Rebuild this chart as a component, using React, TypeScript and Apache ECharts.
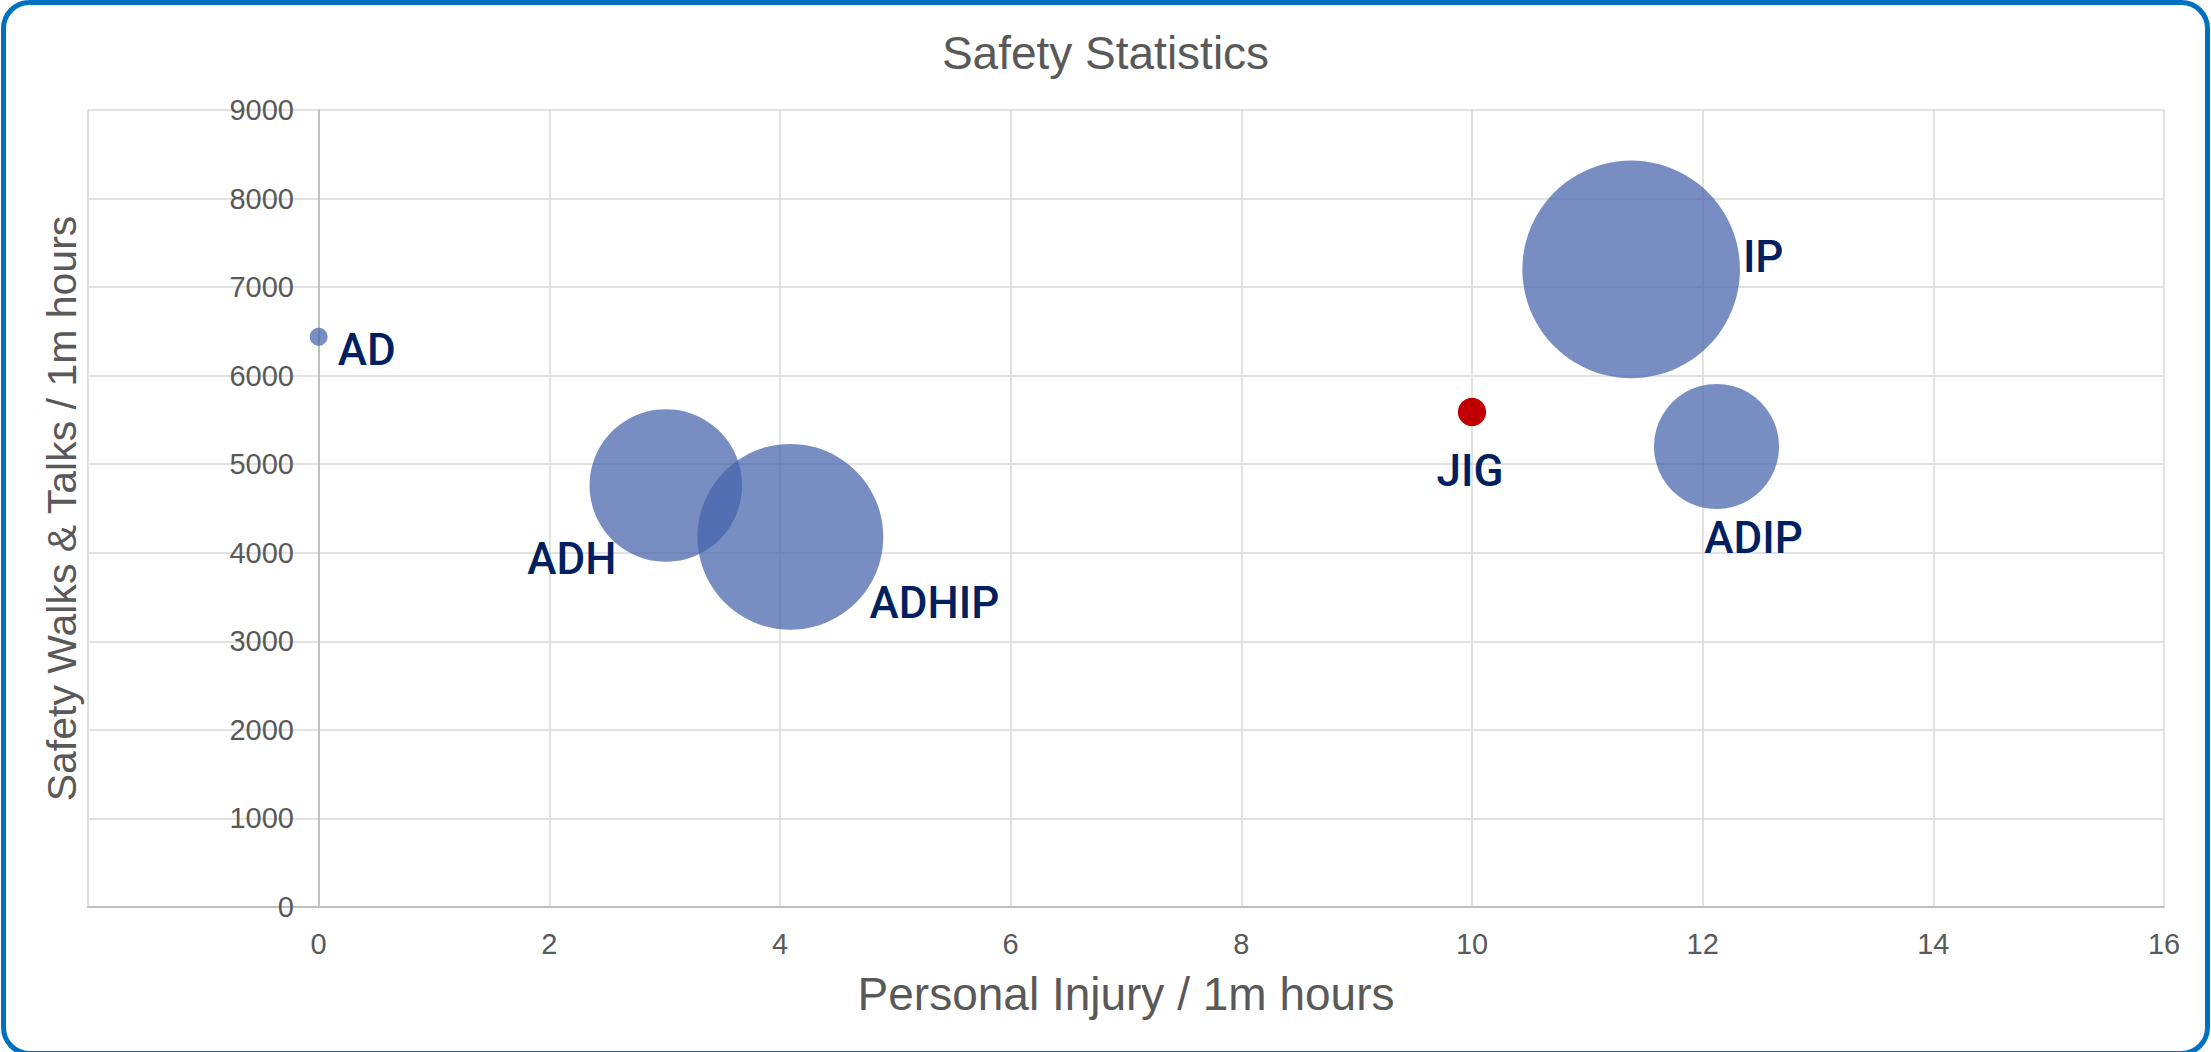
import React, { useEffect, useRef } from "react";
import * as echarts from "echarts";

// ---- Data ----
const NAMES = ["AD", "ADH", "ADHIP", "JIG", "IP", "ADIP"];
const INJURY_RATE = [0, 3.01, 4.09, 10.0, 11.38, 12.12]; // Personal Injury / 1m hours
const WALKS_RATE = [6440, 4760, 4180, 5590, 7200, 5200]; // Safety Walks & Talks / 1m hours
const BUBBLE_SIZE = [8, 580, 860, 20, 1180, 390]; // relative bubble size
const HIGHLIGHT_NAME = "JIG";

const X_MIN = -2;
const X_MAX = 16;
const X_STEP = 2;
const Y_MIN = 0;
const Y_MAX = 9000;
const Y_STEP = 1000;

// ---- Layout / style ----
const GRID_LEFT = 88;
const Y_LABEL_RIGHT = 294; // right edge of y tick labels (next to the x=0 axis line)
const Y_NAME_RIGHT = 82; // right edge of rotated y axis name
const LABEL_OFFSETS: Record<string, [number, number]> = {
  AD: [48, 13],
  ADH: [-94, 74],
  ADHIP: [144, 66],
  JIG: [-2, 59],
  IP: [132, -12],
  ADIP: [37, 91],
};
const MAX_DIAMETER = 217.6;
const BLUE = "rgba(70,100,171,0.73)";
const RED = "#C00000";
const TEXT_GREY = "#595959";
const LABEL_NAVY = "#002060";

export default function App() {
  const ref = useRef<HTMLDivElement | null>(null);

  useEffect(() => {
    if (!ref.current) return;
    const chart = echarts.init(ref.current, null, { renderer: "svg" });
    const maxSize = Math.max(...BUBBLE_SIZE);
    const sizeFn = (v: number[]) => MAX_DIAMETER * Math.sqrt(v[2] / maxSize);

    const makeItem = (i: number) => ({
      name: NAMES[i],
      value: [INJURY_RATE[i], WALKS_RATE[i], BUBBLE_SIZE[i]],
      label: { offset: LABEL_OFFSETS[NAMES[i]] || [0, 0] },
    });
    const blueData: any[] = [];
    const redData: any[] = [];
    NAMES.forEach((n, i) => {
      if (n === HIGHLIGHT_NAME) redData.push(makeItem(i));
      else blueData.push(makeItem(i));
    });

    const labelStyle = {
      show: true,
      position: "inside",
      formatter: "{b}",
      fontFamily: "Roboto",
      fontWeight: 500,
      fontSize: 44,
      color: LABEL_NAVY,
      opacity: 1,
    };

    chart.setOption({
      animation: false,
      backgroundColor: "#ffffff",
      title: {
        text: "Safety Statistics",
        left: "center",
        top: 25,
        textStyle: {
          fontFamily: "Liberation Sans",
          fontWeight: "normal",
          fontSize: 46,
          color: TEXT_GREY,
        },
      },
      grid: {
        left: GRID_LEFT,
        right: 47,
        top: 110,
        bottom: 145,
        outerBoundsMode: "none",
      },
      xAxis: {
        type: "value",
        min: X_MIN,
        max: X_MAX,
        interval: X_STEP,
        name: "Personal Injury / 1m hours",
        nameLocation: "middle",
        nameGap: 64,
        nameTextStyle: {
          fontFamily: "Liberation Sans",
          fontSize: 46,
          color: TEXT_GREY,
        },
        axisLine: { onZero: false, lineStyle: { color: "#BFBFBF", width: 2 } },
        axisTick: { show: false },
        axisLabel: {
          margin: 22,
          fontFamily: "Liberation Sans",
          fontSize: 29,
          color: TEXT_GREY,
          formatter: (v: number) => (v < 0 ? "" : String(v)),
        },
        splitLine: { show: true, lineStyle: { color: "#D9D9D9", width: 1.5 } },
      },
      yAxis: {
        type: "value",
        min: Y_MIN,
        max: Y_MAX,
        interval: Y_STEP,
        name: "Safety Walks & Talks / 1m hours",
        nameLocation: "middle",
        nameGap: GRID_LEFT - Y_NAME_RIGHT,
        nameMoveOverlap: false,
        nameTextStyle: {
          fontFamily: "Liberation Sans",
          fontSize: 41,
          color: TEXT_GREY,
        },
        axisLine: { show: true, onZero: true, lineStyle: { color: "#BFBFBF", width: 2 } },
        axisTick: { show: false },
        axisLabel: {
          margin: GRID_LEFT - Y_LABEL_RIGHT,
          fontFamily: "Liberation Sans",
          fontSize: 29,
          color: TEXT_GREY,
          formatter: (v: number) => String(v),
        },
        splitLine: { show: true, lineStyle: { color: "#D9D9D9", width: 1.5 } },
      },
      series: [
        {
          type: "scatter",
          name: "Sites",
          data: blueData,
          symbolSize: sizeFn,
          itemStyle: { color: BLUE, opacity: 1 },
          label: labelStyle,
          emphasis: { disabled: true },
          z: 3,
        },
        {
          type: "scatter",
          name: HIGHLIGHT_NAME,
          data: redData,
          symbolSize: sizeFn,
          itemStyle: { color: RED, opacity: 1 },
          label: labelStyle,
          emphasis: { disabled: true },
          z: 4,
        },
      ],
      graphic: [
        {
          type: "rect",
          silent: true,
          z: 100,
          shape: { x: 3.5, y: 2.5, width: 2204, height: 1051, r: 26 },
          style: { fill: "none", stroke: "#0070C0", lineWidth: 5 },
        },
      ],
    });
    return () => chart.dispose();
  }, []);

  return (
    <div
      ref={ref}
      style={{ position: "fixed", left: 0, top: 0, width: 2211, height: 1052 }}
    />
  );
}
